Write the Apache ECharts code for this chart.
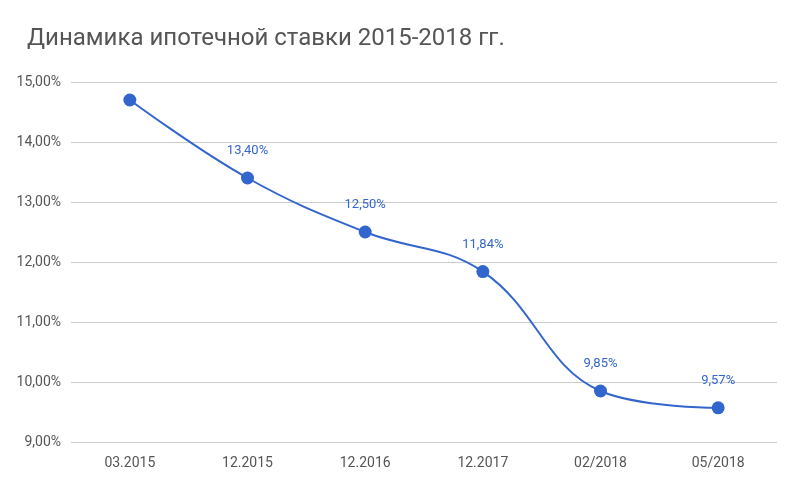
<!DOCTYPE html>
<html><head><meta charset="utf-8">
<script src="https://cdn.jsdelivr.net/npm/echarts@6/dist/echarts.min.js"></script>
<style>html,body{margin:0;padding:0;background:#fff}#c{width:800px;height:494px}</style>
</head><body><div id="c"></div>
<script>
var categories = ['03.2015', '12.2015', '12.2016', '12.2017', '02/2018', '05/2018'];
var rates = [14.70, 13.40, 12.50, 11.84, 9.85, 9.57];
var showLabel = [false, true, true, true, true, true];

var chart = echarts.init(document.getElementById('c'));
var fmt = function (v) { return v.toFixed(2).replace('.', ',') + '%'; };
chart.setOption({
    title: {
        text: 'Динамика ипотечной ставки 2015-2018 гг.',
        left: 22, top: 22,
        textStyle: { fontFamily: 'Roboto', fontSize: 24, fontWeight: 'normal', color: '#555' }
    },
    grid: { left: 71, right: 23, top: 82, bottom: 52 },
    xAxis: {
        type: 'category', data: categories,
        axisLine: { show: false }, axisTick: { show: false },
        axisLabel: { color: '#555', fontSize: 14, fontFamily: 'Roboto', margin: 14 }
    },
    yAxis: {
        type: 'value', min: 9, max: 15, interval: 1,
        axisLabel: { color: '#555', fontSize: 14, fontFamily: 'Roboto', formatter: fmt, margin: 10 },
        splitLine: { lineStyle: { color: '#ccc' } },
        axisLine: { show: false }
    },
    series: [{
        type: 'line', smooth: 0.4,
        data: rates.map(function (v, i) {
            return { value: v, label: { show: showLabel[i] } };
        }),
        symbol: 'circle', symbolSize: 13,
        itemStyle: { color: '#3366cc' },
        lineStyle: { color: '#3366cc', width: 2 },
        label: {
            position: 'top', distance: 14, color: '#3366cc', fontSize: 13, fontFamily: 'Roboto',
            formatter: function (p) { return fmt(p.value); }
        }
    }]
});
</script></body></html>
